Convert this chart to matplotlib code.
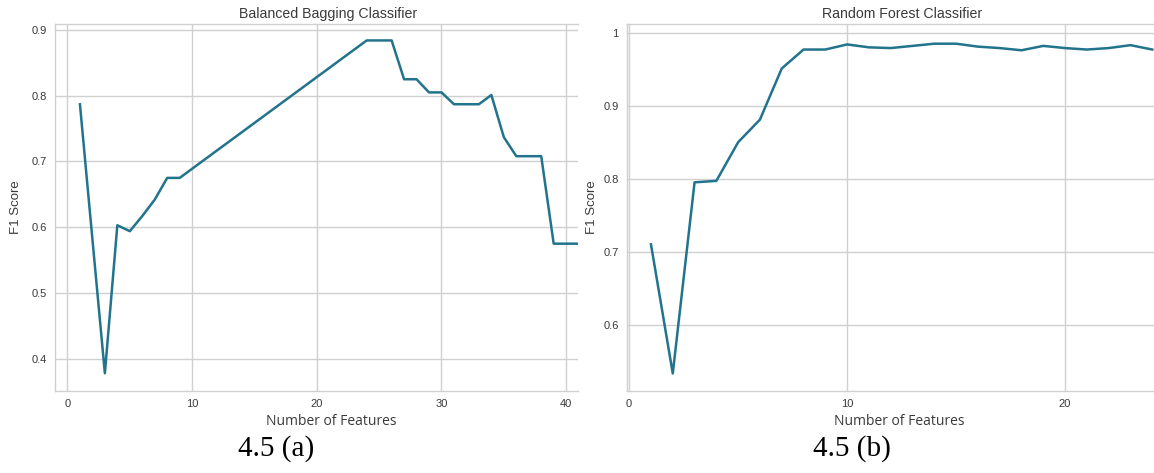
import matplotlib
matplotlib.use("Agg")
import matplotlib.pyplot as plt

# Balanced Bagging: F1 per number of selected features
bag_features = [1, 2, 3, 4, 5, 6, 7, 8, 9, 24, 25, 26, 27, 28, 29, 30, 31, 32, 33,
                34, 35, 36, 37, 38, 39, 40, 41]
bag_f1 = [0.787, 0.582, 0.378, 0.603, 0.594, 0.617, 0.642, 0.675, 0.675, 0.884,
          0.884, 0.884, 0.825, 0.825, 0.805, 0.805, 0.787, 0.787, 0.787, 0.801,
          0.737, 0.708, 0.708, 0.708, 0.575, 0.575, 0.575]

# Random Forest: F1 per number of selected features
rf_features = list(range(1, 25))
rf_f1 = [0.710, 0.533, 0.795, 0.797, 0.850, 0.881, 0.951, 0.977, 0.977, 0.984,
         0.980, 0.979, 0.982, 0.985, 0.985, 0.981, 0.979, 0.976, 0.982, 0.979,
         0.977, 0.979, 0.983, 0.977]

bag_yticks = [0.4, 0.5, 0.6, 0.7, 0.8, 0.9]
rf_yticks = [0.6, 0.7, 0.8, 0.9, 1.0]
rf_yticklabels = ["0.6", "0.7", "0.8", "0.9", "1"]

LINE = "#22738c"
GRID = "#d0d0d0"
TXT = "#3a3a3a"

W, H = 1154, 473
fig = plt.figure(figsize=(W / 100, H / 100), dpi=100)


def px_axes(x0, y0, x1, y1):
    return fig.add_axes([x0 / W, 1 - y1 / H, (x1 - x0) / W, (y1 - y0) / H])


def style(ax):
    ax.set_facecolor("white")
    ax.grid(True, color=GRID, linewidth=1.0)
    ax.set_axisbelow(True)
    for side in ["left", "bottom", "top"]:
        ax.spines[side].set_color(GRID)
        ax.spines[side].set_linewidth(1.0)
    ax.spines["right"].set_visible(False)
    ax.tick_params(length=0, labelsize=8, labelcolor=TXT, pad=6)
    for lab in ax.get_xticklabels() + ax.get_yticklabels():
        lab.set_family(["Liberation Sans", "DejaVu Sans"])


ax1 = px_axes(55, 24, 578, 391)
ax1.plot(bag_features, bag_f1, color=LINE, linewidth=1.8)
ax1.set_xlim(-1, 40.95)
ax1.set_ylim(0.351, 0.909)
ax1.set_xticks([0, 10, 20, 30, 40])
ax1.set_yticks(bag_yticks)
ax1.set_yticklabels([str(v) for v in bag_yticks])
style(ax1)
ax1.set_title("Balanced Bagging Classifier", x=0.523, fontsize=10.2, color=TXT,
              family="Liberation Sans", pad=4)
ax1.set_ylabel("F1 Score", fontsize=9.5, color=TXT, family="Liberation Sans", labelpad=7)

ax2 = px_axes(627, 24, 1154, 391)
ax2.plot(rf_features, rf_f1, color=LINE, linewidth=1.8)
ax2.set_xlim(-0.1, 24.08)
ax2.set_ylim(0.509, 1.012)
ax2.set_xticks([0, 10, 20])
ax2.set_yticks(rf_yticks)
ax2.set_yticklabels(rf_yticklabels)
style(ax2)
ax2.set_title("Random Forest Classifier", x=0.522, fontsize=10.2, color=TXT,
              family="Liberation Sans", pad=4)
ax2.set_ylabel("F1 Score", fontsize=9.5, color=TXT, family="Liberation Sans", labelpad=4)

# axis titles and sub-figure captions
fig.text(331 / W, 1 - 421 / H, "Number of Features", ha="center", va="center",
         fontsize=10, color=TXT, family="Open Sans")
fig.text(899 / W, 1 - 421 / H, "Number of Features", ha="center", va="center",
         fontsize=10, color=TXT, family="Open Sans")
fig.text(276 / W, 1 - 449 / H, "4.5 (a)", ha="center", va="center",
         fontsize=21, color="black", family="Liberation Serif")
fig.text(852 / W, 1 - 449 / H, "4.5 (b)", ha="center", va="center",
         fontsize=21, color="black", family="Liberation Serif")

fig.savefig("out.png", dpi=100, facecolor="white")
